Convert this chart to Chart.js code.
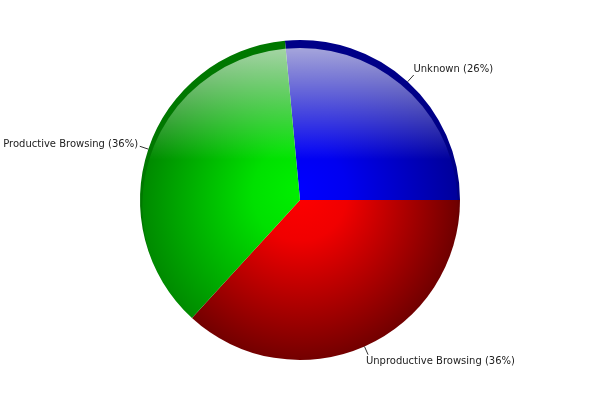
<!DOCTYPE html>
<html>
<head>
<meta charset="utf-8">
<script src="https://cdn.jsdelivr.net/npm/chart.js@4"></script>
<style>
  body { margin: 0; background: #fff; }
</style>
</head>
<body>
<canvas id="pie" width="600" height="400"></canvas>
<script>
const categories = ['Unknown', 'Unproductive Browsing', 'Productive Browsing'];
const shares = [26.5, 36.8, 36.7];

// bright centre, darker edge, rim colour
const palette = [
  ['#0000ff', '#0000f0', '#00009c', '#000088'],
  ['#ff0000', '#f00000', '#700000', '#6a0000'],
  ['#00f000', '#00e000', '#008a00', '#007800']
];

function sliceFill(context) {
  const chart = context.chart;
  const area = chart.chartArea;
  const p = palette[context.dataIndex];
  if (!area) return p[0];
  const cx = (area.left + area.right) / 2;
  const cy = (area.top + area.bottom) / 2;
  const r = Math.min(area.right - area.left, area.bottom - area.top) / 2;
  const g = chart.ctx.createRadialGradient(cx, cy - 12, 0, cx, cy + 6, r - 2);
  g.addColorStop(0, p[0]);
  g.addColorStop(0.3, p[1]);
  g.addColorStop(0.995, p[2]);
  g.addColorStop(1, p[3]);
  return g;
}

const glossAndLabels = {
  id: 'glossAndLabels',
  afterDatasetsDraw(chart) {
    const ctx = chart.ctx;
    const arcs = chart.getDatasetMeta(0).data;
    if (!arcs.length) return;
    const cx = arcs[0].x, cy = arcs[0].y, r = arcs[0].outerRadius;

    // glossy highlight over the top part
    ctx.save();
    ctx.beginPath();
    ctx.arc(cx, cy + 6, r - 2, 0, Math.PI * 2);
    ctx.clip();
    const lg = ctx.createLinearGradient(0, cy - r + 6, 0, cy - 40);
    lg.addColorStop(0, 'rgba(255,255,255,0.66)');
    lg.addColorStop(1, 'rgba(255,255,255,0)');
    ctx.fillStyle = lg;
    ctx.fillRect(cx - r, cy - r, r * 2, r - 40);
    ctx.restore();

    // outside labels with short leader lines
    ctx.save();
    ctx.font = '10px "DejaVu Sans"';
    ctx.fillStyle = '#222';
    ctx.strokeStyle = '#333';
    ctx.lineWidth = 1;
    ctx.textBaseline = 'middle';
    arcs.forEach((arc, i) => {
      const mid = (arc.startAngle + arc.endAngle) / 2;
      const cos = Math.cos(mid), sin = Math.sin(mid);
      ctx.beginPath();
      ctx.moveTo(cx + cos * r, cy + sin * r);
      ctx.lineTo(cx + cos * (r + 9), cy + sin * (r + 9));
      ctx.stroke();
      const ax = cx + cos * (r + 16), ay = cy + sin * (r + 16);
      const text = categories[i] + ' (' + Math.floor(shares[i]) + '%)';
      if (cos >= 0) {
        ctx.textAlign = 'left';
        ctx.fillText(text, ax - 5, ay);
      } else {
        ctx.textAlign = 'right';
        ctx.fillText(text, ax + 5, ay);
      }
    });
    ctx.restore();
  }
};

new Chart(document.getElementById('pie'), {
  type: 'pie',
  data: {
    labels: categories,
    datasets: [{
      data: shares,
      backgroundColor: sliceFill,
      borderWidth: 0
    }]
  },
  options: {
    responsive: false,
    animation: false,
    rotation: -5.4,
    layout: { padding: { top: 40, bottom: 40, left: 140, right: 140 } },
    plugins: {
      legend: { display: false },
      tooltip: { enabled: false }
    }
  },
  plugins: [glossAndLabels]
});
</script>
</body>
</html>
